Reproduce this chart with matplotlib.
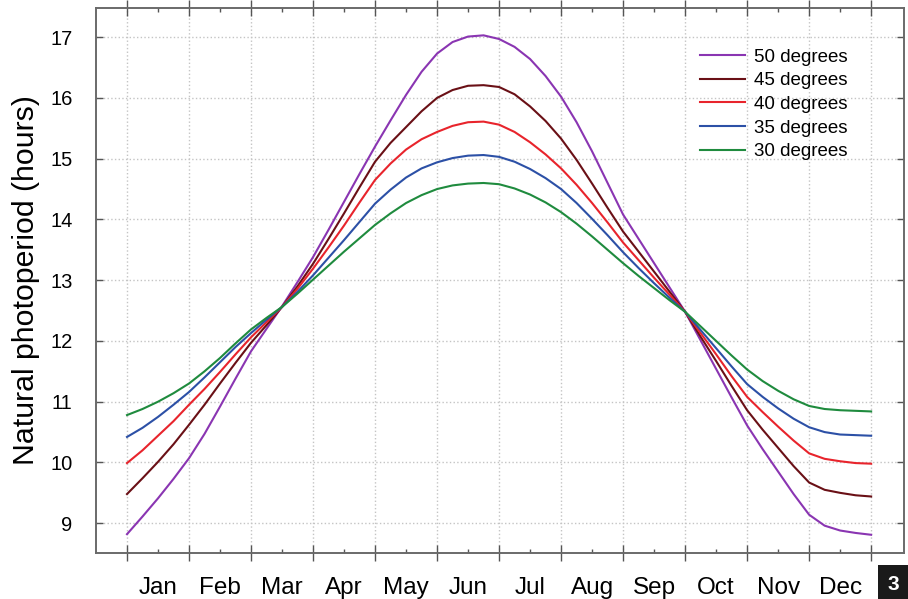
import matplotlib.pyplot as plt
import numpy as np
from matplotlib.ticker import MultipleLocator, FixedLocator, NullFormatter

plt.rcParams['font.family'] = ['Liberation Sans', 'DejaVu Sans']

months = ['Jan', 'Feb', 'Mar', 'Apr', 'May', 'Jun',
          'Jul', 'Aug', 'Sep', 'Oct', 'Nov', 'Dec']

# position in months from 1 Jan, every quarter month
month_pos = [i / 4 for i in range(49)]

lat50 = [8.82, 9.11, 9.41, 9.73, 10.07, 10.47, 10.92, 11.38, 11.83, 12.20, 12.57, 12.97,
         13.38, 13.83, 14.29, 14.75, 15.20, 15.63, 16.05, 16.43, 16.73, 16.92, 17.01, 17.03,
         16.97, 16.84, 16.64, 16.36, 16.02, 15.60, 15.12, 14.60, 14.08, 13.68, 13.28, 12.88,
         12.48, 12.01, 11.54, 11.07, 10.61, 10.22, 9.85, 9.48, 9.14, 8.96, 8.88, 8.84, 8.81]
lat45 = [9.48, 9.74, 10.01, 10.30, 10.62, 10.95, 11.30, 11.64, 11.97, 12.26, 12.56, 12.90,
         13.27, 13.68, 14.10, 14.53, 14.95, 15.26, 15.52, 15.78, 16.00, 16.13, 16.20, 16.21,
         16.18, 16.06, 15.86, 15.62, 15.33, 14.98, 14.59, 14.19, 13.80, 13.47, 13.14, 12.81,
         12.48, 12.07, 11.67, 11.26, 10.86, 10.54, 10.24, 9.94, 9.67, 9.55, 9.50, 9.46, 9.44]
lat40 = [9.99, 10.20, 10.44, 10.68, 10.95, 11.21, 11.49, 11.78, 12.06, 12.31, 12.56, 12.86,
         13.19, 13.54, 13.90, 14.28, 14.65, 14.92, 15.15, 15.32, 15.44, 15.54, 15.60, 15.61,
         15.56, 15.44, 15.27, 15.07, 14.84, 14.57, 14.27, 13.95, 13.62, 13.33, 13.04, 12.76,
         12.48, 12.13, 11.78, 11.42, 11.08, 10.83, 10.59, 10.36, 10.15, 10.06, 10.02, 9.99, 9.98]
lat35 = [10.42, 10.57, 10.75, 10.95, 11.16, 11.40, 11.65, 11.90, 12.13, 12.35, 12.56, 12.81,
         13.08, 13.37, 13.66, 13.96, 14.26, 14.49, 14.69, 14.84, 14.94, 15.01, 15.05, 15.06,
         15.03, 14.95, 14.83, 14.68, 14.50, 14.27, 14.01, 13.74, 13.46, 13.20, 12.95, 12.71,
         12.48, 12.18, 11.88, 11.58, 11.29, 11.08, 10.89, 10.72, 10.58, 10.50, 10.46, 10.45, 10.44]
lat30 = [10.78, 10.88, 11.00, 11.14, 11.30, 11.50, 11.72, 11.96, 12.19, 12.38, 12.56, 12.78,
         13.01, 13.24, 13.47, 13.69, 13.91, 14.10, 14.27, 14.40, 14.50, 14.56, 14.59, 14.60,
         14.58, 14.51, 14.41, 14.28, 14.12, 13.93, 13.72, 13.50, 13.28, 13.07, 12.87, 12.67,
         12.48, 12.24, 12.00, 11.76, 11.53, 11.34, 11.18, 11.04, 10.93, 10.88, 10.86, 10.85, 10.84]

series = [('50 degrees', lat50, '#8a35b2'),
          ('45 degrees', lat45, '#6a1016'),
          ('40 degrees', lat40, '#e8242c'),
          ('35 degrees', lat35, '#2c50a6'),
          ('30 degrees', lat30, '#1f8b3e')]

fig = plt.figure(figsize=(9.08, 5.99), dpi=100)
ax = fig.add_axes([96/908, 46/599, 808/908, 545/599])

for label, vals, col in series:
    ax.plot(month_pos, vals, color=col, lw=1.5, label=label)

ax.set_xlim(-0.5, 12.53)
ax.set_ylim(8.51, 17.48)

ax.xaxis.set_major_locator(MultipleLocator(1))
ax.xaxis.set_minor_locator(FixedLocator(np.arange(0.5, 12, 1)))
ax.xaxis.set_major_formatter(NullFormatter())
ax.set_xticklabels(months, minor=True)
ax.yaxis.set_major_locator(MultipleLocator(1))

ax.tick_params(axis='x', which='major', direction='inout', length=11, width=1,
               color='#555555', top=True)
ax.tick_params(axis='x', which='minor', direction='in', length=3, width=1,
               color='#555555', top=True, labelsize=17.5, pad=17)
ax.tick_params(axis='y', which='major', direction='in', length=5, width=1,
               color='#555555', right=True, labelsize=14.5, pad=17)

ax.grid(True, which='major', linestyle=':', color='#c4c4c4', lw=1)
for s in ax.spines.values():
    s.set_color('#6a6a6a')
    s.set_linewidth(1.4)

ax.set_ylabel('Natural photoperiod (hours)', fontsize=21.8, labelpad=7)

ax.legend(loc='upper left', bbox_to_anchor=(691/908, 1 - 39/599),
          bbox_transform=fig.transFigure, frameon=False, fontsize=13.5,
          handlelength=2.4, handletextpad=0.45, labelspacing=0.35, borderpad=0)

fig.text(893/908, 15/599, '3', color='white', fontsize=15, fontweight='bold',
         ha='center', va='center',
         bbox=dict(boxstyle='square,pad=0.45', fc='#1a1a1a', ec='none'))

plt.savefig('out.png', dpi=100)
